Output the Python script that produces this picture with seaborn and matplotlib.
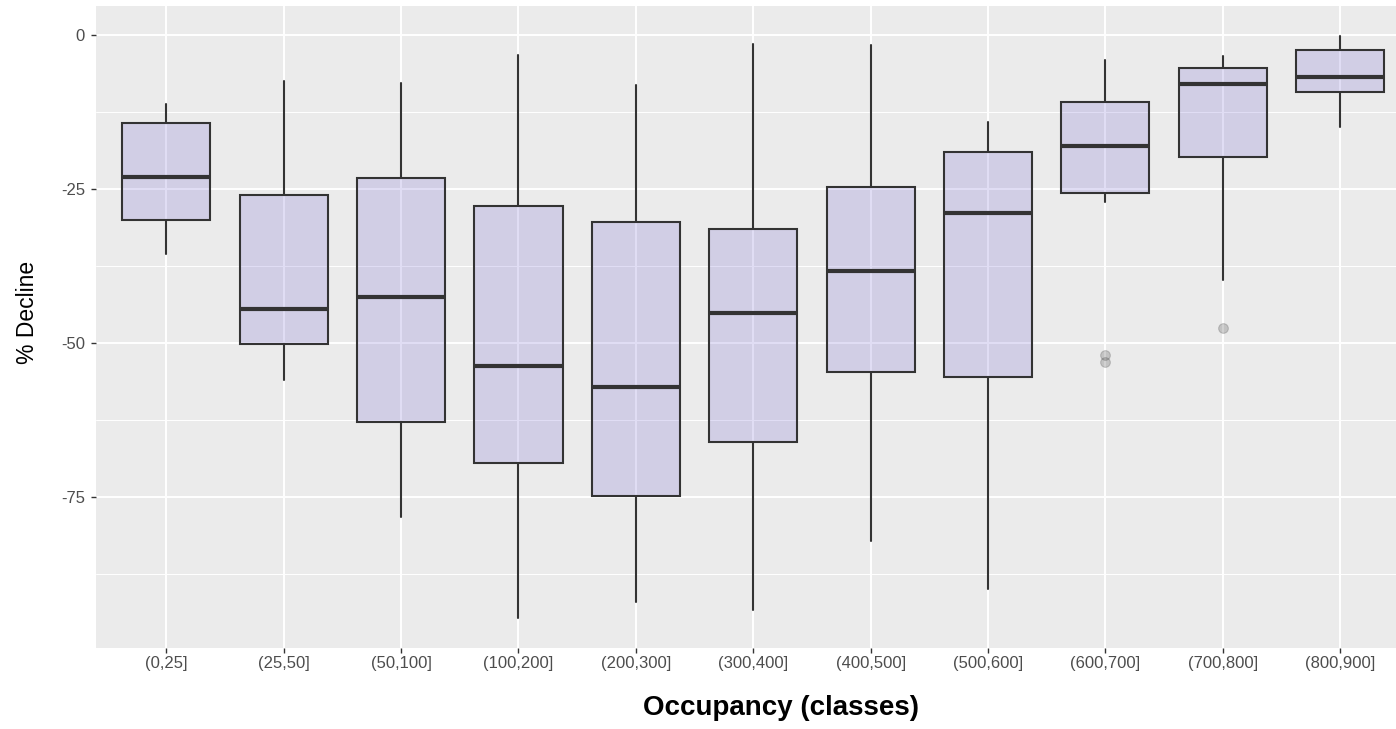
import matplotlib
matplotlib.use("Agg")
import matplotlib.pyplot as plt
import seaborn as sns
import pandas as pd

# Occupancy classes and the per-class box summaries (% decline)
categories = ["(0,25]", "(25,50]", "(50,100]", "(100,200]", "(200,300]",
              "(300,400]", "(400,500]", "(500,600]", "(600,700]",
              "(700,800]", "(800,900]"]
whisker_high = [-11.2, -7.5, -7.8, -3.3, -8.1, -1.4, -1.7, -14.1, -4.1, -3.4, -0.1]
q3 = [-14.3, -26.0, -23.3, -27.7, -30.3, -31.5, -24.7, -19.0, -10.9, -5.3, -2.5]
median = [-23.1, -44.5, -42.5, -53.7, -57.2, -45.2, -38.4, -28.9, -18.0, -7.9, -6.8]
q1 = [-30.0, -50.2, -62.9, -69.6, -74.9, -66.1, -54.7, -55.5, -25.6, -19.9, -9.3]
whisker_low = [-35.6, -56.1, -78.3, -94.7, -92.1, -93.4, -82.2, -90.0, -27.2, -39.8, -14.9]

# Points beyond the whiskers
outlier_class = ["(600,700]", "(600,700]", "(700,800]"]
outlier_value = [-52.0, -53.1, -47.6]

y_ticks = [0, -25, -50, -75]
y_minor = [-12.5, -37.5, -62.5, -87.5]

sns.set_theme(style="darkgrid")
plt.rcParams["font.family"] = ["Liberation Sans", "DejaVu Sans"]

W, H = 1396, 729
fig = plt.figure(figsize=(W / 100, H / 100), dpi=100)
ax = fig.add_axes([96 / W, 81 / H, 1300 / W, 642 / H])
ax.set_facecolor("#EBEBEB")

edge = "#333333"
fill = matplotlib.colors.to_rgba("slateblue", 0.2)

# Outliers via seaborn on the categorical axis
outliers = pd.DataFrame({"occupancy": outlier_class, "decline": outlier_value})
sns.stripplot(data=outliers, x="occupancy", y="decline", order=categories,
              jitter=False, size=7, color=edge, alpha=0.22, linewidth=0.8,
              edgecolor=edge, ax=ax, zorder=3)

stats = [
    {"whislo": lo, "q1": a, "med": m, "q3": b, "whishi": hi, "label": c}
    for c, lo, a, m, b, hi in zip(categories, whisker_low, q1, median, q3, whisker_high)
]
ax.bxp(stats, positions=list(range(len(categories))), widths=0.75,
       patch_artist=True, showfliers=False, showcaps=False,
       boxprops=dict(facecolor=fill, edgecolor=edge, linewidth=1.5),
       whiskerprops=dict(color=edge, linewidth=1.5),
       medianprops=dict(color=edge, linewidth=3.0, solid_capstyle="butt"),
       manage_ticks=False, zorder=2)

ax.set_xlim(-0.6, 10.477)
ax.set_ylim(-99.58, 4.71)
ax.set_xticks(range(len(categories)))
ax.set_xticklabels(categories)
ax.set_yticks(y_ticks)
ax.set_yticklabels([str(v) for v in y_ticks])
ax.set_yticks(y_minor, minor=True)

ax.grid(False)
ax.set_axisbelow(True)
for v in y_ticks:
    ax.axhline(v, color="white", lw=1.4, zorder=0.5)
for v in y_minor:
    ax.axhline(v, color="white", lw=0.7, zorder=0.5)
for i in range(len(categories)):
    ax.axvline(i, color="white", lw=1.4, zorder=0.5)

for s in ax.spines.values():
    s.set_visible(False)

ax.tick_params(axis="both", which="major", length=3.4, width=1.0, color=edge,
               labelsize=12, labelcolor="#4D4D4D", bottom=True, left=True)
ax.tick_params(axis="x", which="major", pad=2.5)
ax.tick_params(axis="y", which="major", pad=4.5)
ax.tick_params(axis="y", which="minor", length=0)

ax.set_xlabel("Occupancy (classes)", fontsize=20, fontweight="bold", color="black")
ax.xaxis.set_label_coords(0.527, -0.1044)
ax.xaxis.label.set_va("baseline")
ax.set_ylabel("% Decline", fontsize=16.5, color="black")
ax.yaxis.set_label_coords(-0.044, 0.522)

fig.savefig("out.png", dpi=100)
